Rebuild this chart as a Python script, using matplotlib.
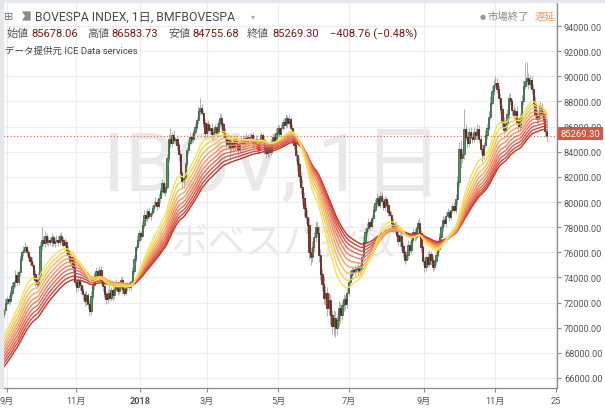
import numpy as np
import matplotlib.pyplot as plt
from matplotlib.patches import Rectangle, Polygon

# daily closes of the index (late Aug 2017 -> Dec 2018)
closes = [
    71000, 71400, 72000, 72300, 72100, 72800, 73300, 73600, 74200, 73600,
    74400, 75500, 76000, 76200, 76400, 76000, 75600, 75300, 75000, 74300,
    73800, 73500, 74000, 76500, 77000, 76700, 77300, 76800, 77000, 76800,
    77200, 76700, 76900, 77000, 76800, 77300, 77000, 76600, 76800, 76200,
    75800, 75300, 75600, 74800, 73600, 73200, 73800, 73400, 73000, 72700,
    72100, 72600, 71900, 71300, 72500, 73400, 74200, 74500, 74100, 74600,
    73800, 73300, 72700, 72300, 72800, 72400, 73000, 72600, 73100, 73500,
    72900, 73300, 73800, 73100, 72800, 73200, 73400, 73200, 73600, 74500,
    75500, 76400, 77000, 77500, 77300, 78200, 79000, 78700, 79300, 78900,
    79100, 79500, 79800, 80000, 79700, 80300, 80900, 81500, 80800, 81200,
    83500, 85000, 84700, 85300, 84900, 85000, 84500, 83800, 82300, 81600,
    81900, 83000, 84100, 84700, 85200, 85000, 85600, 86000, 86500, 87200,
    87500, 87100, 86300, 85500, 86200, 85700, 85900, 85400, 85600, 86000,
    85500, 86300, 86700, 86200, 85600, 85100, 84600, 84900, 84300, 84800,
    84400, 85000, 84600, 84200, 84700, 85000, 84600, 85100, 84800, 85200,
    84900, 85300, 84700, 85000, 84600, 84200, 84800, 85300, 84900, 84300,
    83900, 84500, 84000, 84700, 85200, 84800, 85500, 85900, 85400, 85900,
    86400, 86100, 86700, 86300, 86600, 85900, 85200, 84500, 83700, 83000,
    82100, 81200, 80300, 79500, 78800, 78200, 76000, 75600, 76400, 77200,
    78000, 77500, 75800, 74300, 73500, 72400, 72800, 71600, 72200, 71000,
    70100, 70800, 70000, 70600, 71600, 71000, 71800, 72300, 71900, 72800,
    73600, 74200, 74600, 74400, 74700, 74800, 74500, 74900, 75600, 76800,
    77600, 77900, 78400, 78100, 78700, 79400, 79900, 80300, 79800, 80500,
    80100, 79600, 80200, 79800, 79200, 79000, 78300, 77800, 78200, 77400,
    76900, 77300, 76500, 76000, 75400, 75800, 76600, 76200, 77000, 77600,
    77200, 77900, 78300, 77500, 76400, 75300, 74800, 75600, 75100, 75900,
    75400, 74800, 75300, 75800, 76300, 77200, 78000, 78600, 78300, 78900,
    79200, 78800, 79400, 79700, 79400, 80200, 81600, 84200, 83500, 83800,
    85800, 85200, 84700, 85600, 85200, 85000, 85600, 85300, 85800, 85000,
    84200, 83700, 84500, 85300, 85900, 86800, 87900, 88800, 89300, 89500,
    89000, 88300, 87400, 86400, 85700, 86200, 87000, 88300, 88000, 87300,
    86900, 87200, 86400, 86000, 86700, 88000, 89200, 89600, 89900, 89400,
    89700, 89000, 87900, 87000, 86600, 86900, 87600, 87100, 86600, 85678.06,
    85269.30,
]
first_open = 70600

# wick lengths above / below each candle body, in units of 100 points
wick_hi = [
    3, 2, 4, 2, 3, 2, 3, 2, 4, 3,  2, 3, 2, 3, 4, 2, 3, 2, 3, 2,
    3, 2, 4, 3, 10, 3, 4, 2, 3, 2,  3, 2, 2, 4, 3, 2, 3, 2, 3, 2,
    3, 2, 3, 2, 4, 3, 2, 3, 2, 3,  2, 3, 2, 3, 4, 3, 2, 3, 2, 3,
    3, 2, 3, 2, 3, 8, 2, 3, 2, 4,  2, 3, 2, 3, 2, 3, 2, 3, 2, 3,
    3, 2, 4, 3, 2, 3, 4, 3, 2, 3,  2, 3, 3, 4, 2, 3, 2, 3, 2, 3,
    3, 4, 9, 3, 4, 2, 3, 2, 3, 2,  3, 2, 3, 2, 4, 3, 2, 3, 3, 4,
    8, 3, 2, 3, 2, 3, 2, 4, 3, 2,  3, 2, 4, 3, 2, 3, 2, 5, 3, 2,
    3, 2, 3, 2, 3, 2, 3, 2, 4, 2,  3, 2, 3, 2, 3, 4, 2, 3, 2, 3,
    2, 3, 2, 3, 2, 3, 4, 3, 2, 3,  2, 3, 3, 2, 3, 2, 3, 4, 3, 4,
    5, 4, 6, 5, 4, 6, 5, 4, 5, 4,  4, 5, 6, 5, 4, 6, 5, 4, 6, 5,
    4, 6, 5, 4, 5, 4, 3, 4, 3, 4,  3, 4, 3, 2, 3, 2, 3, 2, 3, 4,
    3, 4, 3, 2, 3, 4, 3, 4, 2, 3,  3, 2, 3, 2, 3, 2, 3, 4, 3, 2,
    3, 2, 4, 3, 2, 3, 4, 3, 2, 3,  3, 2, 3, 4, 3, 2, 3, 2, 4, 3,
    2, 3, 2, 3, 4, 3, 2, 3, 2, 3,  3, 2, 3, 2, 3, 4, 5, 6, 7, 5,
    16, 4, 5, 3, 4, 3, 4, 3, 4, 3,  3, 4, 3, 4, 3, 4, 5, 4, 5, 5,
    4, 3, 4, 3, 4, 3, 4, 3, 4, 3,  4, 3, 4, 3, 4, 5, 4, 15, 12, 4,
    4, 3, 4, 5, 4, 3, 4, 3, 4, 5,  9,
]
wick_lo = [
    3, 2, 3, 2, 3, 2, 3, 2, 4, 3,  2, 3, 2, 3, 2, 3, 2, 3, 2, 4,
    5, 4, 3, 2, 3, 2, 3, 2, 3, 2,  3, 2, 3, 2, 3, 2, 3, 2, 3, 3,
    3, 4, 3, 4, 3, 4, 3, 4, 3, 5,  4, 3, 4, 4, 3, 2, 3, 2, 3, 2,
    3, 4, 3, 4, 3, 2, 3, 4, 3, 2,  3, 2, 3, 4, 3, 2, 3, 2, 3, 2,
    2, 3, 2, 3, 3, 2, 3, 2, 3, 2,  3, 2, 3, 2, 3, 2, 4, 3, 2, 3,
    2, 3, 4, 3, 2, 3, 4, 5, 4, 6,  5, 3, 2, 3, 2, 3, 2, 3, 2, 3,
    3, 2, 3, 4, 3, 2, 3, 4, 3, 2,  3, 2, 3, 4, 5, 3, 4, 3, 10, 3,
    4, 3, 3, 6, 3, 2, 4, 3, 2, 3,  3, 2, 4, 3, 3, 4, 3, 2, 3, 5,
    4, 3, 4, 3, 2, 3, 2, 3, 2, 3,  2, 3, 2, 3, 2, 3, 4, 3, 4, 5,
    5, 6, 5, 6, 5, 7, 5, 6, 4, 3,  4, 3, 6, 5, 6, 5, 6, 7, 6, 8,
    6, 7, 7, 6, 5, 6, 4, 5, 4, 3,  3, 2, 3, 2, 3, 2, 3, 2, 3, 2,
    2, 3, 2, 3, 2, 3, 2, 3, 2, 3,  3, 2, 3, 2, 3, 2, 3, 2, 3, 2,
    3, 4, 3, 4, 3, 2, 3, 2, 3, 2,  3, 2, 3, 2, 4, 3, 4, 3, 2, 3,
    4, 3, 2, 3, 2, 3, 2, 3, 2, 3,  2, 3, 2, 3, 2, 3, 4, 3, 8, 4,
    4, 3, 4, 3, 2, 3, 2, 3, 4, 3,  4, 5, 3, 2, 3, 2, 3, 2, 3, 2,
    3, 4, 3, 4, 3, 2, 3, 4, 3, 4,  3, 4, 3, 4, 3, 2, 3, 2, 3, 4,
    3, 4, 3, 4, 3, 4, 3, 4, 3, 4,  5,
]

# last bar, as printed in the legend
last_open, last_high, last_low, last_close = 85678.06, 86583.73, 84755.68, 85269.30
change, change_pct = -408.76, -0.48

# moving-average ribbon: EMA periods and their values at the left edge
ema_periods = [20, 24, 28, 32, 36, 40, 44, 48, 52, 56]
ema_start = [69100, 68830, 68560, 68300, 68030, 67770, 67500, 67230, 66970, 66700]
ribbon_colors = ['#f5e34c', '#f7cf5a', '#f6b963', '#f4a465', '#f19064',
                 '#ec7c5f', '#e66957', '#dc574b', '#cd463b', '#b6362a']

tick_pos = [3.0, 44.8, 83.6, 124.2, 167.3, 210.3, 255.8, 298.8, 335.8]
tick_labels = ['9月', '11月', '2018', '3月', '5月', '7月', '9月', '11月', '25']
price_ticks = np.arange(66000, 94001, 2000)

W, H = 605, 410
fig = plt.figure(figsize=(W / 100, H / 100), dpi=100)
fig.patch.set_facecolor('white')
ax = fig.add_axes([0, 21 / H, 557 / W, 386 / H])

c = np.array(closes, dtype=float)
o = np.array([first_open] + closes[:-1], dtype=float)
x = np.arange(len(c))
hi = np.maximum(o, c) + np.array(wick_hi) * 100
lo = np.minimum(o, c) - np.array(wick_lo) * 100
hi[-1], lo[-1] = last_high, last_low
up = c >= o

# watermark
jp = ['Roboto', 'Noto Sans CJK JP']
ax.text(0.49, 0.57, 'IBOV, 1日', transform=ax.transAxes, ha='center', va='center',
        fontsize=58, color='#e9e9e9', family=jp, zorder=0)
ax.text(0.508, 0.378, 'ボベスパ指数', transform=ax.transAxes, ha='center', va='center',
        fontsize=27, color='#e9e9e9', family=jp, zorder=0)

# candles
ax.vlines(x, lo, hi, color='#a3a3a3', lw=0.6, zorder=2)
ax.bar(x[up], (c - o)[up], bottom=o[up], width=0.75, color='#4f9265',
       edgecolor='#2b5737', lw=0.5, zorder=3)
ax.bar(x[~up], (o - c)[~up], bottom=c[~up], width=0.75, color='#9c3424',
       edgecolor='#4e140b', lw=0.5, zorder=3)

# EMA ribbon
for per, start, col in reversed(list(zip(ema_periods, ema_start, ribbon_colors))):
    a = 2 / (per + 1)
    e = np.empty(len(c))
    e[0] = start
    for i in range(1, len(c)):
        e[i] = e[i - 1] + a * (c[i] - e[i - 1])
    ax.plot(x, e, color=col, lw=1.0, zorder=4)

# last price line
ax.axhline(last_close, color='#e0604c', lw=0.8, ls=(0, (1, 2)), zorder=5)

px = 1.65
ax.set_xlim(-2 / px, (557 - 2) / px)
ax.set_ylim(66000 - 10 * 79.55, 94000 + 24 * 79.55)

ax.set_xticks(tick_pos)
ax.set_xticklabels(tick_labels, family=jp)
for lab in ax.get_xticklabels():
    if lab.get_text() == '2018':
        lab.set_fontweight('bold')
ax.set_yticks(price_ticks)
ax.set_yticklabels([f'{v:.2f}' for v in price_ticks], family='Roboto')
ax.yaxis.tick_right()
ax.tick_params(axis='both', length=3, color='#8a8a8a', labelcolor='#555555',
               labelsize=6.6, pad=2)
ax.tick_params(axis='x', labelsize=6.6, pad=3)
ax.grid(True, color='#ececec', lw=0.8, zorder=1)
ax.set_axisbelow(True)
for s in ['top', 'left']:
    ax.spines[s].set_visible(False)
for s in ['right', 'bottom']:
    ax.spines[s].set_color('#8a8a8a')
    ax.spines[s].set_linewidth(0.9)

# frame strips of the widget
fig.patches.append(Rectangle((0, 1 - 3 / H), 1, 3 / H, transform=fig.transFigure,
                             color='#e4e7ec', zorder=0))
fig.patches.append(Rectangle((0, 21 / H), 2.5 / W, 1, transform=fig.transFigure,
                             color='#e4e7ec', zorder=0))


def fx(px_x):
    return px_x / W


def fy(px_y):
    return 1 - px_y / H


# legend header
fig.text(fx(9), fy(17), '⊞', ha='center', va='center', fontsize=8, color='#777777',
         family='DejaVu Sans')
fig.patches.append(Polygon([(fx(23), fy(13)), (fx(30), fy(13)), (fx(30), fy(21)),
                            (fx(23), fy(21)), (fx(26), fy(17))],
                           closed=True, transform=fig.transFigure, color='#8c8c8c'))
fig.text(fx(35), fy(17.5), 'BOVESPA INDEX, 1日, BMFBOVESPA', ha='left', va='center',
         fontsize=8.8, color='#4a4a4a', family=jp)
fig.text(fx(253), fy(17), '▾', ha='center', va='center', fontsize=6, color='#b0b0b0',
         family='DejaVu Sans')

val_col = '#6e1d12'
lab_col = '#555555'
row = [(7, '始値', lab_col), (31, f'{last_open:.2f}', val_col),
       (87, '高値', lab_col), (111, f'{last_high:.2f}', val_col),
       (168, '安値', lab_col), (192, f'{last_low:.2f}', val_col),
       (247, '終値', lab_col), (272, f'{last_close:.2f}', val_col),
       (330, f'\u2212{abs(change):.2f} (\u2212{abs(change_pct):.2f}%)', val_col)]
for xp, s, col in row:
    fig.text(fx(xp), fy(34), s, ha='left', va='center', fontsize=8, color=col, family=jp)
fig.text(fx(5), fy(51), 'データ提供元 ICE Data services', ha='left', va='center',
         fontsize=6.8, color='#444444', family=jp)

fig.text(fx(483), fy(16.5), '●', ha='center', va='center', fontsize=5, color='#999999',
         family='DejaVu Sans')
fig.text(fx(488), fy(16.5), '市場終了', ha='left', va='center', fontsize=7.5,
         color='#8a8a8a', family=jp)
fig.text(fx(535), fy(16.5), '遅延', ha='left', va='center', fontsize=7.5,
         color='#f0a05a', family=jp)

# last price tag on the price axis
fig.text(fx(580.5), fy(134.5), f'{last_close:.2f}', ha='center', va='center',
         fontsize=6.8, color='white', family='Roboto',
         bbox=dict(boxstyle='square,pad=0.25', fc='#cf5a45', ec='none'))

fig.savefig('out.png', dpi=100)
